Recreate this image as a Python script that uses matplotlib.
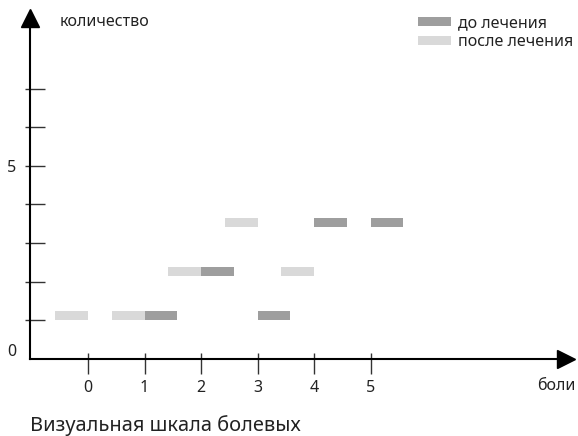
import numpy as np
import matplotlib
matplotlib.use("Agg")
import matplotlib.pyplot as plt
from matplotlib.ticker import FixedLocator, FixedFormatter, NullFormatter

plt.rcParams['font.family'] = ['Noto Sans', 'DejaVu Sans']

# ---- data ----
pain_levels = [0, 1, 2, 3, 4, 5]
before = [np.nan, 1.12, 2.27, 1.12, 3.54, 3.54]   # до лечения
after = [1.12, 1.12, 2.27, 3.54, 2.27, np.nan]    # после лечения
xtick_labels = ['0', '1', '2', '3', '4', '5']
ytick_values = [1, 2, 3, 4, 5, 6, 7]
ytick_labels = ['', '', '', '', '5', '', '']
series_names = ['до лечения', 'после лечения']

W, H = 578, 436
fig = plt.figure(figsize=(W / 100, H / 100), dpi=100)
ax = fig.add_axes([0, 0, 1, 1])

# pixel mapping: x0 px=88, 56.5 px/unit ; y0 px=358.5 (from top), 38.5 px/unit
x0, sx = 88.0, 56.5
y0, sy = 358.5, 38.5
ax.set_xlim(-x0 / sx, (W - x0) / sx)
ax.set_ylim(-(H - y0) / sy, y0 / sy)

dark = '#9e9e9e'
light = '#d9d9d9'
txt = '#222222'
fs = 11.5
bar_h = 0.23
bar_w = 0.58

b = np.array(before)
a = np.array(after)
ax.bar(pain_levels, bar_h, bottom=b - bar_h / 2, width=bar_w, align='edge',
       color=dark, label=series_names[0], linewidth=0)
ax.bar(pain_levels, bar_h, bottom=a - bar_h / 2, width=-bar_w, align='edge',
       color=light, label=series_names[1], linewidth=0)

# axes / spines
yax_x = (29.7 - x0) / sx
for s in ['top', 'right']:
    ax.spines[s].set_visible(False)
ax.spines['left'].set_position(('data', yax_x))
ax.spines['bottom'].set_position(('data', 0))
ax.spines['left'].set_bounds(0, 8.75)
ax.spines['bottom'].set_bounds(yax_x, 8.5)
ax.spines['left'].set_linewidth(1.5)
ax.spines['bottom'].set_linewidth(1.5)

# arrow heads
ax.plot([yax_x], [(y0 - 18.5) / sy], marker='^', ms=12.8, color='black', clip_on=False)
ax.plot([(566 - x0) / sx], [0], marker='>', ms=12.8, color='black', clip_on=False)

# y ticks
ax.yaxis.set_major_locator(FixedLocator(ytick_values))
ax.yaxis.set_major_formatter(FixedFormatter(ytick_labels))
ax.yaxis.set_minor_locator(FixedLocator(ytick_values))
ax.yaxis.set_minor_formatter(NullFormatter())
ax.yaxis.remove_overlapping_locs = False
ax.tick_params(axis='y', which='major', direction='in', length=10.8, width=1.0,
               color='#333333', pad=10, labelsize=fs, labelcolor=txt)
ax.tick_params(axis='y', which='minor', direction='out', length=3.4, width=1.0,
               color='#333333')

# x ticks
ax.xaxis.set_major_locator(FixedLocator(pain_levels))
ax.xaxis.set_major_formatter(FixedFormatter(xtick_labels))
ax.xaxis.set_minor_locator(FixedLocator(pain_levels))
ax.xaxis.set_minor_formatter(NullFormatter())
ax.xaxis.remove_overlapping_locs = False
ax.tick_params(axis='x', which='major', direction='out', length=10.8, width=1.0,
               color='#333333', pad=4.5, labelsize=fs, labelcolor=txt)
ax.tick_params(axis='x', which='minor', direction='in', length=4.1, width=1.0,
               color='#333333')

# texts
ax.text(12 / W, 1 - 352 / H, '0', transform=ax.transAxes, ha='center', va='center',
        fontsize=fs, color=txt)
ax.text(60 / W, 1 - 22 / H, 'количество', transform=ax.transAxes, ha='left', va='center',
        fontsize=fs, color=txt)
ax.text(576 / W, 1 - 386 / H, 'боли', transform=ax.transAxes, ha='right', va='center',
        fontsize=fs, color=txt)
ax.text(30 / W, 1 - 430.5 / H, 'Визуальная шкала болевых', transform=ax.transAxes,
        ha='left', va='baseline', fontsize=14.4, color=txt)

ax.legend(loc='upper left', bbox_to_anchor=(418 / W, 1 - 15 / H), frameon=False,
          fontsize=fs, handlelength=2.05, handleheight=0.5, handletextpad=0.45,
          labelspacing=0.2, borderpad=0, borderaxespad=0, labelcolor=txt)

fig.savefig('out.png', dpi=100)
